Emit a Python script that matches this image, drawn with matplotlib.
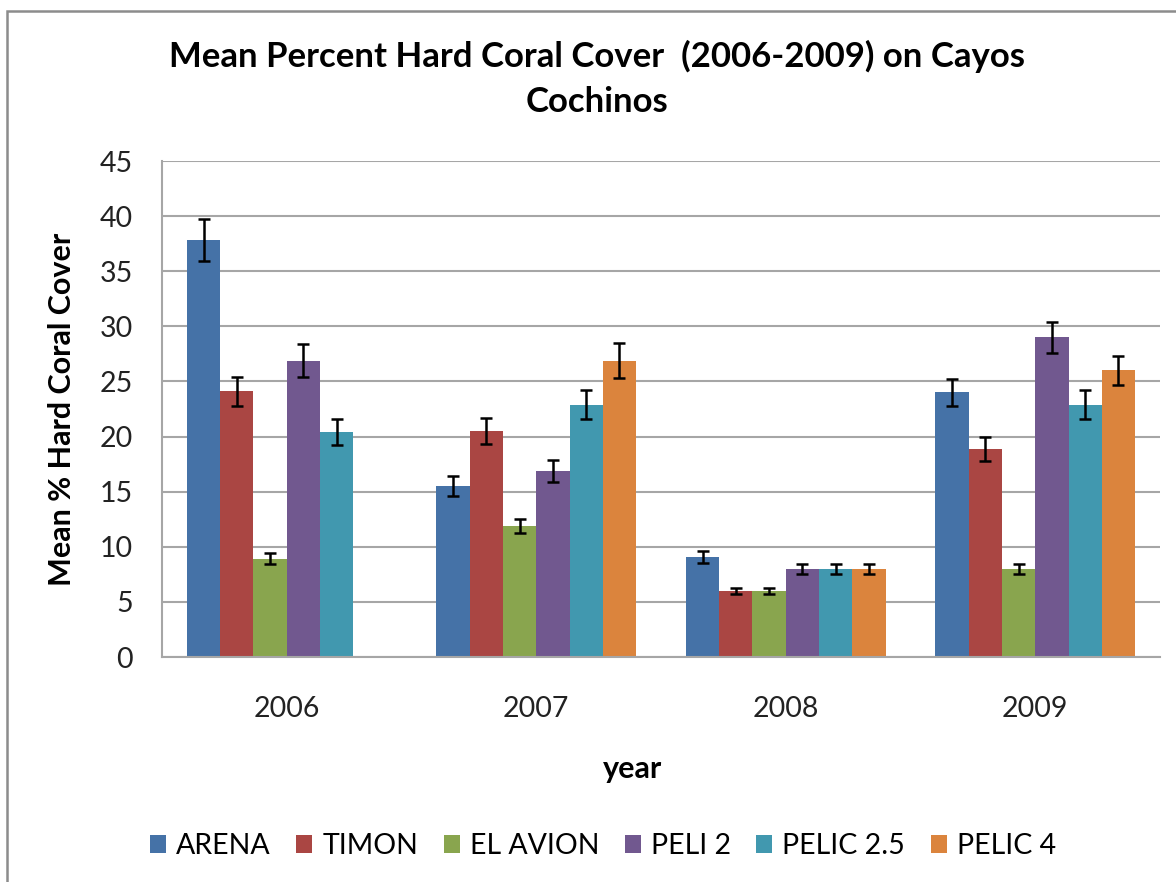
import numpy as np
import matplotlib.pyplot as plt
from matplotlib.patches import Rectangle

plt.rcParams['font.family'] = ['Lato', 'DejaVu Sans']

# Data
years = ["2006", "2007", "2008", "2009"]
sites = ["ARENA", "TIMON", "EL AVION", "PELI 2", "PELIC 2.5", "PELIC 4"]

arena = [37.8, 15.5, 9.1, 24.0]
timon = [24.1, 20.5, 6.0, 18.9]
el_avion = [8.9, 11.9, 6.0, 8.0]
peli2 = [26.9, 16.9, 8.0, 29.0]
pelic25 = [20.4, 22.9, 8.0, 22.9]
pelic4 = [np.nan, 26.9, 8.0, 26.0]

arena_err = [1.9, 0.9, 0.55, 1.25]
timon_err = [1.3, 1.2, 0.3, 1.1]
el_avion_err = [0.5, 0.65, 0.3, 0.45]
peli2_err = [1.5, 1.0, 0.45, 1.4]
pelic25_err = [1.2, 1.3, 0.45, 1.3]
pelic4_err = [np.nan, 1.6, 0.45, 1.3]

values = [arena, timon, el_avion, peli2, pelic25, pelic4]
errors = [arena_err, timon_err, el_avion_err, peli2_err, pelic25_err, pelic4_err]
colors = ["#4572A7", "#AA4643", "#89A54E", "#71588F", "#4198AF", "#DB843D"]

fig = plt.figure(figsize=(11.76, 8.82), dpi=100)
ax = fig.add_axes([162 / 1176, 1 - 657 / 882, 998 / 1176, 496 / 882])

# outer chart frame (cropped on right and bottom)
fig.patches.append(Rectangle((7 / 1176, -0.05), 1.2, 1 - 11 / 882 + 0.05,
                             transform=fig.transFigure, fill=False,
                             edgecolor="#8c8c8c", linewidth=1.8, clip_on=False))

x = np.arange(len(years))
width = 0.8 / len(sites)
for i, (name, vals, errs, c) in enumerate(zip(sites, values, errors, colors)):
    pos = x - 0.4 + width * (i + 0.5)
    ax.bar(pos, vals, width, color=c, label=name, zorder=2)
    ax.errorbar(pos, vals, yerr=errs, fmt="none", ecolor="black",
                elinewidth=1.8, capsize=4.5, capthick=1.8, zorder=3)

ax.set_xlim(-0.5, 3.5)
ax.set_ylim(0, 45)
ax.set_yticks(range(0, 46, 5))
ax.set_xticks(x)
ax.set_xticklabels(years)
ax.grid(axis="y", color="#a6a6a6", linewidth=1.5, zorder=0)
ax.set_axisbelow(True)
for s in ["top", "right"]:
    ax.spines[s].set_visible(False)
for s in ["left", "bottom"]:
    ax.spines[s].set_color("#a6a6a6")
    ax.spines[s].set_linewidth(1.5)
ax.tick_params(axis="both", length=0, labelsize=20.5, colors="#222222")
ax.tick_params(axis="x", pad=28)
ax.tick_params(axis="y", pad=21)

ax.set_ylabel("Mean % Hard Coral Cover", fontsize=22, fontweight="bold")
ax.yaxis.set_label_coords(-0.086, 0.5)
ax.set_xlabel("year", fontsize=22, fontweight="bold")
ax.xaxis.set_label_coords(0.471, -0.197)

fig.text(597 / 1176, 1 - 79 / 882,
         "Mean Percent Hard Coral Cover  (2006-2009) on Cayos\nCochinos",
         ha="center", va="center", fontsize=25, fontweight="bold",
         linespacing=1.5)

fig.legend(loc="center", bbox_to_anchor=(603 / 1176, 1 - 846 / 882), ncol=6,
           frameon=False, fontsize=20.5, handlelength=0.56, handleheight=0.56,
           handletextpad=0.35, columnspacing=0.9)

fig.savefig("out.png", dpi=100)
